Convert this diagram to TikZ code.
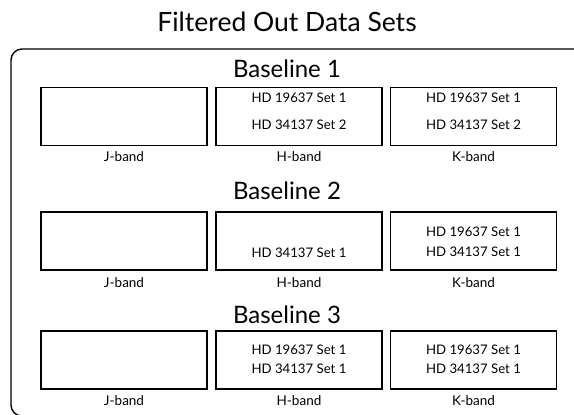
\documentclass[tikz,border=0pt]{standalone}
\usepackage{fontspec}
\setmainfont{Lato}
\begin{document}
\begin{tikzpicture}[x=1pt,y=-1pt,
  bandbox/.style={draw=black,line width=1.2pt,minimum width=166pt,minimum height=58pt,inner sep=0pt},
  settext/.style={font=\fontsize{13.2}{15}\selectfont,inner sep=0pt},
  bandlabel/.style={font=\fontsize{13.5}{15}\selectfont,inner sep=0pt},
  rowtitle/.style={font=\fontsize{24}{28}\selectfont,inner sep=0pt,anchor=base},
  frame/.style={draw=black,line width=1.4pt,rounded corners=11pt}]
\useasboundingbox (0,0) rectangle (574,415);
\clip (0,0) rectangle (574,415);
\draw[frame] (11,49) rectangle (590,416);
\node[font=\fontsize{26.5}{30}\selectfont,inner sep=0pt,anchor=base] (title) at (287,31) {Filtered Out Data Sets};
% Row 1
\node[rowtitle] (b1) at (287,77.5) {Baseline 1};
\node[bandbox] (j1) at (124,116.5) {};
\node[bandbox] (h1) at (299,116.5) {};
\node[bandbox] (k1) at (473.5,116.5) {};
\node[settext] (h1a) at (299,98) {HD 19637 Set 1};
\node[settext] (h1b) at (299,125) {HD 34137 Set 2};
\node[settext] (k1a) at (473.5,98) {HD 19637 Set 1};
\node[settext] (k1b) at (473.5,125) {HD 34137 Set 2};
\node[bandlabel] (j1l) at (124,157) {J-band};
\node[bandlabel] (h1l) at (299,157) {H-band};
\node[bandlabel] (k1l) at (473.5,157) {K-band};
% Row 2
\node[rowtitle] (b2) at (287,199) {Baseline 2};
\node[bandbox] (j2) at (124,241) {};
\node[bandbox] (h2) at (299,241) {};
\node[bandbox] (k2) at (473.5,241) {};
\node[settext] (h2b) at (299,253) {HD 34137 Set 1};
\node[settext] (k2a) at (473.5,232) {HD 19637 Set 1};
\node[settext] (k2b) at (473.5,252) {HD 34137 Set 1};
\node[bandlabel] (j2l) at (124,283) {J-band};
\node[bandlabel] (h2l) at (299,283) {H-band};
\node[bandlabel] (k2l) at (473.5,283) {K-band};
% Row 3
\node[rowtitle] (b3) at (287,323) {Baseline 3};
\node[bandbox] (j3) at (124,360) {};
\node[bandbox] (h3) at (299,360) {};
\node[bandbox] (k3) at (473.5,360) {};
\node[settext] (h3a) at (299,350) {HD 19637 Set 1};
\node[settext] (h3b) at (299,369) {HD 34137 Set 1};
\node[settext] (k3a) at (473.5,350) {HD 19637 Set 1};
\node[settext] (k3b) at (473.5,369) {HD 34137 Set 1};
\node[bandlabel] (j3l) at (124,401) {J-band};
\node[bandlabel] (h3l) at (299,401) {H-band};
\node[bandlabel] (k3l) at (473.5,401) {K-band};
\end{tikzpicture}
\end{document}
